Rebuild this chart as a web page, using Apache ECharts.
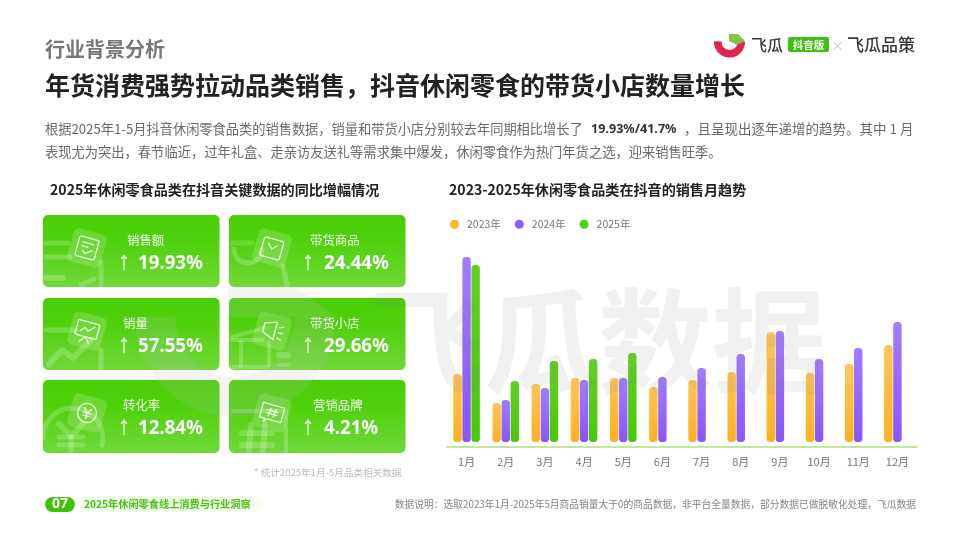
<!DOCTYPE html>
<html><head><meta charset="utf-8">
<style>html,body{margin:0;padding:0;background:#fff}#c{width:960px;height:540px}</style>
<script src="https://cdn.jsdelivr.net/npm/echarts@6/dist/echarts.min.js"></script>
</head><body><div id="c"></div>
<script>
const months=['1月','2月','3月','4月','5月','6月','7月','8月','9月','10月','11月','12月'];
const seriesNames=['2023年','2024年','2025年'];
const v2023=[68,39,58,64,64,55,62,70,110,69,78,97];
const v2024=[185,42,54,62,64,65,74,88,111,83,94,120];
const v2025=[177,61,81,83,89,null,null,null,null,null,null,null];
const cardLabels=['销售额','带货商品','销量','带货小店','转化率','营销品牌'];
const cardValues=['19.93%','24.44%','57.55%','29.66%','12.84%','4.21%'];

const FONT='"Noto Sans CJK SC","Noto Sans",sans-serif';
const NUM='"Noto Sans","Noto Sans CJK SC",sans-serif';
const g=[];
function T(text,x,y,size,fill,weight,align,z,family){
  return {type:'text',x,y,z:z||20,silent:true,style:{text,fill,font:(weight||'normal')+' '+size+'px '+(family||FONT),textAlign:align||'left',textVerticalAlign:'middle'}};
}
function L(pts,w,a,z){return {type:'polyline',z:z||12,silent:true,shape:{points:pts},style:{stroke:'rgba(255,255,255,'+(a||0.2)+')',lineWidth:w||5,fill:null,lineCap:'round',lineJoin:'round'}};}
function A(cx,cy,r,s,e,w,a){return {type:'arc',z:12,silent:true,shape:{cx,cy,r,startAngle:s,endAngle:e,clockwise:true},style:{stroke:'rgba(255,255,255,'+(a||0.2)+')',fill:null,lineWidth:w||5}};}

/* header */
g.push(T('行业背景分析',45,49,20,'#777','bold'));
g.push(T('年货消费强势拉动品类销售，抖音休闲零食的带货小店数量增长',45,85,25,'#222','bold'));
g.push(T('根据2025年1-5月抖音休闲零食品类的销售数据，销量和带货小店分别较去年同期相比增长了',45,129,13.22,'#6b6b6b'));
g.push(T('19.93%/41.7%',591,129,12.6,'#333','bold',null,null,NUM));
g.push(T('，且呈现出逐年递增的趋势。其中 1 月',684,129,13.5,'#6b6b6b'));
g.push(T('表现尤为突出，春节临近，过年礼盒、走亲访友送礼等需求集中爆发，休闲零食作为热门年货之选，迎来销售旺季。',45,152,13.27,'#6b6b6b'));
g.push(T('2025年休闲零食品类在抖音关键数据的同比增幅情况',50,190,14.1,'#222','bold'));
g.push(T('2023-2025年休闲零食品类在抖音的销售月趋势',449,190,14.1,'#222','bold'));

/* logo */
g.push({type:'sector',z:20,silent:true,shape:{cx:729.5,cy:42,r:15.5,r0:8,startAngle:-0.05,endAngle:Math.PI+0.05,clockwise:true},style:{fill:'#e0254f'}});
g.push({type:'polygon',z:21,silent:true,shape:{points:[[729,34],[738,34],[745,41],[737,45],[729,41]]},style:{fill:'#86c440'}});
g.push(T('飞瓜',751,45,16,'#3a3a3a','500'));
g.push({type:'rect',z:20,silent:true,shape:{x:788,y:37,width:41,height:15,r:2},style:{fill:'#3cc20e'}});
g.push(T('抖音版',808.5,45,10.5,'#fff','bold','center'));
g.push(T('×',837.5,45,13,'#c8c8c8','normal','center'));
g.push(T('飞瓜品策',847,45,17,'#3a3a3a','500'));

/* cards */
const cols=[43,229], rows=[[215,72],[298,72],[380,73]];
const labelX=[127,310,123,310,123,313], arrowX=[124,308,124,308,124,308];
const numX=[138,324,138,324,138,324];
cardLabels.forEach((lab,i)=>{
  const x=cols[i%2], r=rows[Math.floor(i/2)];
  g.push({type:'rect',z:10,silent:true,shape:{x,y:r[0],width:176.5,height:r[1],r:5},
    style:{fill:{type:'linear',x:0,y:0,x2:0,y2:1,colorStops:[{offset:0,color:'#4acf06'},{offset:.35,color:'#4fd00c'},{offset:1,color:'#70d93a'}]}}});
  g.push(T(lab,labelX[i],r[0]+25,12.4,'rgba(255,255,255,.95)','normal','left',22));
  g.push(T('↑',arrowX[i],r[0]+47,26,'#fff','normal','center',22,'"Liberation Sans"'));
  g.push(T(cardValues[i],numX[i],r[0]+48.5,18.7,'#fff','bold','left',22,NUM));
});
/* card backgrounds */
g.push(L([[46,243],[68,243]],5),L([[46,257],[70,257]],5),L([[46,278],[63,278]],6),L([[101,262],[101,285]],5),L([[81,285],[94,279]],5));
g.push(A(248,249,14,-0.1,3.3,5),L([[232,243],[252,243]],5,0.15),L([[283,266],[287,285]],5));
g.push(L([[49,364],[62,350],[73,358],[90,341]],6),L([[46,330],[76,330]],5),L([[101,350],[101,368]],5));
g.push(L([[232,340],[262,340]],4),L([[232,337],[264,328]],4),L([[241,342],[241,366]],4),L([[232,367],[268,367]],4),L([[269,342],[269,365]],4),L([[279,355],[288,355]],6),L([[279,365],[288,365]],4));
g.push(A(73,438,30,Math.PI*0.98,Math.PI*2.1,5),L([[59,424],[71,436],[83,424]],6),L([[59,437],[83,437]],5),L([[59,445],[83,445]],5),L([[71,437],[71,451]],5));
g.push(L([[233,411],[286,411],[286,451]],4),L([[251,425],[249,451]],6),L([[265,425],[263,451]],6),L([[242,433],[272,433]],6),L([[242,445],[272,445]],6));

/* tilted icons */
const W='rgba(255,255,255,.85)';
function P(pts){return {type:'polyline',shape:{points:pts},style:{stroke:W,lineWidth:1.3,fill:null}};}
function R(x,y,w,h,r){return {type:'rect',shape:{x,y,width:w,height:h,r:r||1},style:{stroke:W,lineWidth:1.3,fill:null}};}
const icons=[
 [R(-10,-10,20,20,2),P([[-6,-5],[6,-5]]),P([[-6,-1],[1,-1]]),P([[-4,3],[-1,6],[6,1]])],
 [R(-10,-9,20,19,2),P([[-5,-4],[0,1],[5,-4]])],
 [R(-11,-9,22,15,1),P([[-7,2],[-3,-3],[1,0],[7,-6]]),P([[0,6],[-5,12]]),P([[0,6],[5,12]])],
 [{type:'polygon',shape:{points:[[-9,-6],[3,-10],[3,8],[-9,3]]},style:{stroke:W,lineWidth:1.3,fill:null}},P([[6,-5],[11,-7]]),P([[6,0],[11,0]]),P([[6,5],[11,7]])],
 [{type:'circle',shape:{cx:0,cy:0,r:9.5},style:{stroke:W,lineWidth:1.3,fill:null}},P([[-4,-5],[0,0],[4,-5]]),P([[-4,0],[4,0]]),P([[-4,3],[4,3]]),P([[0,0],[0,6]])],
 [{type:'polygon',shape:{points:[[-11,-8],[11,-8],[11,7],[-3,7],[-6,10],[-6,7],[-11,7]]},style:{stroke:W,lineWidth:1.3,fill:null}},P([[-2,-5],[-3,4]]),P([[3,-5],[2,4]]),P([[-6,-2],[6,-2]]),P([[-6,1],[6,1]])]
];
const cx=[87,272];
icons.forEach((ic,i)=>{
  const r=rows[Math.floor(i/2)];
  g.push({type:'group',x:cx[i%2],y:r[0]+33,rotation:-0.27,z:15,silent:true,children:[
    {type:'rect',z:15,shape:{x:-17,y:-17,width:34,height:34,r:5},style:{fill:'rgba(255,255,255,.17)'}},
    ...ic.map(e=>({...e,z:16}))
  ]});
});

/* watermark */
const WM='rgba(190,190,190,.17)';
g.push({type:'sector',z:30,silent:true,shape:{cx:235,cy:317,r:100,r0:60,startAngle:0,endAngle:Math.PI,clockwise:true},style:{fill:WM}});
g.push({type:'polygon',z:30,silent:true,shape:{points:[[228,288],[298,288],[335,317],[295,317],[262,317],[228,317]]},style:{fill:WM}});
g.push(T('飞瓜数据',370,341,114,'rgba(125,125,125,.105)','bold','left',30));

/* foot */
g.push(T('* 统计2025年1月-5月品类相关数据',254,472,9.6,'#bdbdbd'));
g.push({type:'rect',z:20,silent:true,shape:{x:45,y:497,width:30,height:15,r:7.5},style:{fill:'#3fc209'}});
g.push(T('07',60,504.5,14,'#fff','bold','center',21,NUM));
g.push({type:'polygon',z:20,silent:true,shape:{points:[[80,496],[257,496],[264,504],[257,512],[80,512]]},style:{fill:{type:'linear',x:0,y:0,x2:1,y2:0,colorStops:[{offset:0,color:'rgba(235,250,225,.6)'},{offset:.5,color:'#eefbe6'},{offset:1,color:'#f6fdf1'}]}}});
g.push(T('2025年休闲零食线上消费与行业洞察',84,504.5,10.2,'#4cc314','bold','left',21));
g.push(T('数据说明：选取2023年1月-2025年5月商品销量大于0的商品数据，非平台全量数据，部分数据已做脱敏化处理，飞瓜数据',916,504,9.75,'#858585','normal','right'));

const grad=(a,b)=>({type:'linear',x:0,y:0,x2:0,y2:1,colorStops:[{offset:0,color:a},{offset:1,color:b}]});
const colors=[grad('#ffc655','#ffb01f'),grad('#a27cff','#8a55fb'),grad('#62d024','#49c806')];
const solid=['#ffb52a','#8d5cfb','#52cc10'];
const bar=(name,data,i)=>({name,type:'bar',data,barWidth:8.4,barGap:'8%',itemStyle:{color:colors[i],borderRadius:3.5}});

const chart=echarts.init(document.getElementById('c'),null,{width:960,height:540});
chart.setOption({
  animation:false,backgroundColor:'#fff',
  legend:{left:445,top:214,icon:'circle',itemWidth:9,itemHeight:9,itemGap:14,
    data:seriesNames.map((n,i)=>({name:n,itemStyle:{color:solid[i]}})),
    textStyle:{fontSize:10.5,color:'#777',fontFamily:FONT,padding:[0,0,0,3]}},
  grid:{left:447,width:470,top:242,height:200},
  xAxis:{type:'category',data:months,offset:4.5,axisTick:{show:false},
    axisLine:{onZero:false,lineStyle:{color:'#a9e381',width:1.5}},
    axisLabel:{fontSize:11,color:'#777',fontFamily:FONT,margin:10}},
  yAxis:{type:'value',min:0,max:200,show:false},
  series:[bar(seriesNames[0],v2023,0),bar(seriesNames[1],v2024,1),bar(seriesNames[2],v2025,2)],
  graphic:{elements:g}
});
</script></body></html>
